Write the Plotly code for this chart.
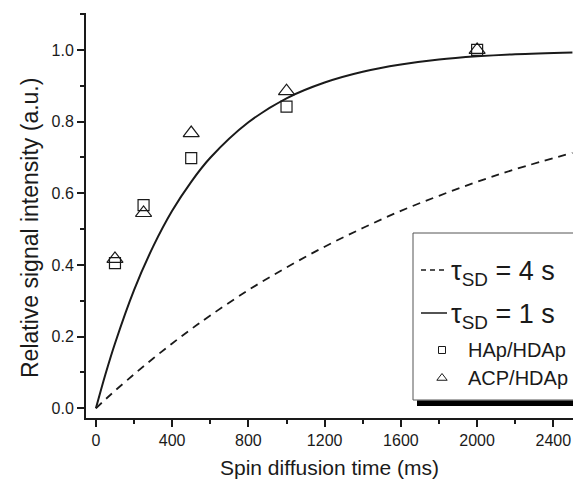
import plotly.graph_objects as go

# ---- data ----
t_points = [100, 250, 500, 1000, 2000]
hap_hdap = [0.405, 0.567, 0.698, 0.842, 1.0]
acp_hdap = [0.417, 0.545, 0.768, 0.885, 1.0]

t_curve = [0, 50, 100, 200, 300, 400, 500, 600, 800, 1000, 1200, 1400, 1600, 1800, 2000, 2200, 2500]
tau1_curve = [0, 0.095, 0.181, 0.330, 0.451, 0.551, 0.632, 0.699, 0.798, 0.865, 0.909, 0.939, 0.959, 0.973, 0.982, 0.988, 0.993]
tau4_curve = [0, 0.025, 0.049, 0.095, 0.139, 0.181, 0.221, 0.259, 0.330, 0.393, 0.451, 0.503, 0.551, 0.593, 0.632, 0.667, 0.713]

x_ticks = [0, 400, 800, 1200, 1600, 2000, 2400]
y_ticks = [0.0, 0.2, 0.4, 0.6, 0.8, 1.0]

# ---- layout geometry (pixels) ----
W, H = 573, 488
PL, PR, PT, PB = 86, 573, 13, 418
INK = "#1a1a1a"
FONT = "Arial, Liberation Sans, sans-serif"


def px(x):
    return (x - PL) / (PR - PL)


def py(y):
    return (PB - y) / (PB - PT)


fig = go.Figure()

fig.add_trace(go.Scatter(x=t_curve, y=tau4_curve, mode="lines", line_shape="spline",
                         line=dict(color=INK, width=1.8, dash="8px,6px"), showlegend=False))
fig.add_trace(go.Scatter(x=t_curve, y=tau1_curve, mode="lines", line_shape="spline",
                         line=dict(color=INK, width=2), showlegend=False))
fig.add_trace(go.Scatter(x=t_points, y=hap_hdap, mode="markers",
                         marker=dict(symbol="square-open", size=11, color=INK, line=dict(width=1.2)),
                         showlegend=False))
fig.add_trace(go.Scatter(x=t_points, y=acp_hdap, mode="markers",
                         marker=dict(symbol="triangle-up-open", size=14, color=INK, line=dict(width=1.2)),
                         showlegend=False))

# legend sample markers on an overlay axis in plot-fraction coordinates
fig.add_trace(go.Scatter(x=[px(442)], y=[py(350)], xaxis="x2", yaxis="y2", mode="markers",
                         marker=dict(symbol="square-open", size=7, color=INK, line=dict(width=1)),
                         showlegend=False, hoverinfo="skip"))
fig.add_trace(go.Scatter(x=[px(442)], y=[py(378)], xaxis="x2", yaxis="y2", mode="markers",
                         marker=dict(symbol="triangle-up-open", size=9, color=INK, line=dict(width=1)),
                         showlegend=False, hoverinfo="skip"))

shapes = [
    dict(type="rect", xref="paper", yref="paper", x0=px(413), x1=px(600), y0=py(400), y1=py(233),
         fillcolor="white", line=dict(color="#555555", width=1), layer="below"),
    dict(type="rect", xref="paper", yref="paper", x0=px(417), x1=px(600), y0=py(406), y1=py(400.5),
         fillcolor="black", line=dict(width=0), layer="above"),
    dict(type="line", xref="paper", yref="paper", x0=px(421), x1=px(447), y0=py(270), y1=py(270),
         line=dict(color=INK, width=1.5, dash="5px,4px"), layer="above"),
    dict(type="line", xref="paper", yref="paper", x0=px(421), x1=px(447), y0=py(313), y1=py(313),
         line=dict(color=INK, width=1.5), layer="above"),
]

annotations = [
    dict(text="τ<sub>SD</sub> = 4 s", xref="paper", yref="paper", x=px(449), y=py(273),
         xanchor="left", yanchor="middle", showarrow=False, font=dict(size=27, color=INK, family=FONT)),
    dict(text="τ<sub>SD</sub> = 1 s", xref="paper", yref="paper", x=px(449), y=py(316),
         xanchor="left", yanchor="middle", showarrow=False, font=dict(size=27, color=INK, family=FONT)),
    dict(text="HAp/HDAp", xref="paper", yref="paper", x=px(466), y=py(350),
         xanchor="left", yanchor="middle", showarrow=False, font=dict(size=20, color=INK, family=FONT)),
    dict(text="ACP/HDAp", xref="paper", yref="paper", x=px(466), y=py(378),
         xanchor="left", yanchor="middle", showarrow=False, font=dict(size=20, color=INK, family=FONT)),
    # y axis title
    dict(text="Relative signal intensity (a.u.)", xref="paper", yref="paper", x=px(30), y=py(228),
         xanchor="center", yanchor="middle", textangle=-90, showarrow=False,
         font=dict(size=23, color=INK, family=FONT)),
]

fig.update_layout(
    width=W, height=H,
    margin=dict(l=PL, r=W - PR, t=PT, b=H - PB, pad=0, autoexpand=False),
    paper_bgcolor="white", plot_bgcolor="white",
    font=dict(family=FONT, color=INK, size=16),
    shapes=shapes, annotations=annotations,
    xaxis=dict(range=[-52, 2503], tickvals=x_ticks, ticks="outside", ticklen=7, tickwidth=1.5,
               tickcolor=INK, showline=True, linecolor=INK, linewidth=2, showgrid=False, zeroline=False,
               automargin=False,
               minor=dict(ticks="outside", ticklen=4, tickwidth=1.5, tickcolor=INK, dtick=200, tick0=0),
               tickfont=dict(size=16),
               title=dict(text="Spin diffusion time (ms)", font=dict(size=21), standoff=12)),
    yaxis=dict(range=[-0.027, 1.103], tickvals=y_ticks, tickformat=".1f", ticks="outside", ticklen=7,
               tickwidth=1.5, tickcolor=INK, showline=True, linecolor=INK, linewidth=2, showgrid=False,
               zeroline=False, automargin=False,
               minor=dict(ticks="outside", ticklen=4, tickwidth=1.5, tickcolor=INK, dtick=0.1, tick0=0),
               tickfont=dict(size=16)),
    xaxis2=dict(overlaying="x", range=[0, 1], visible=False, fixedrange=True),
    yaxis2=dict(overlaying="y", range=[0, 1], visible=False, fixedrange=True),
)

fig.write_html("out.html", config={"displayModeBar": False},
               post_script="document.body.style.margin='0';document.body.style.overflow='hidden';")
